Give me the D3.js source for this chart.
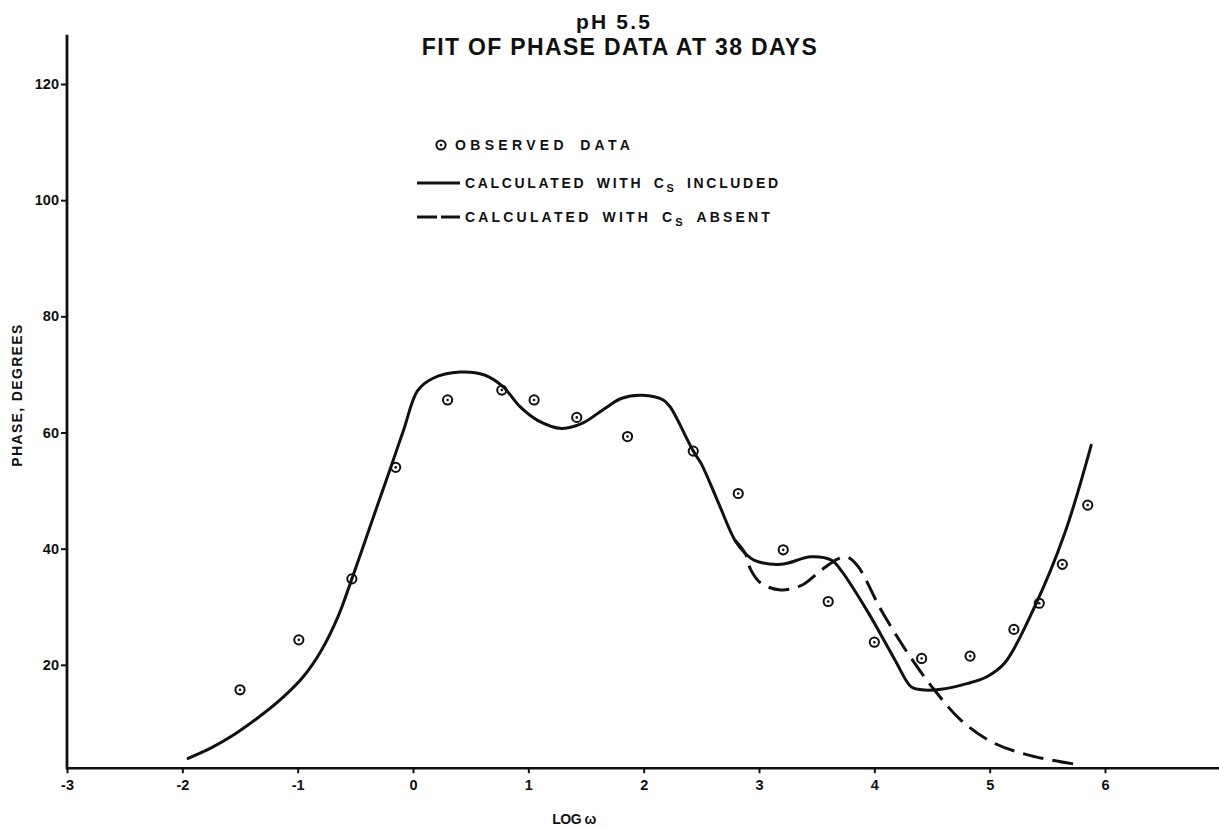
<!DOCTYPE html>
<html><head><meta charset="utf-8">
<script src="https://cdn.jsdelivr.net/npm/d3@7"></script>
<style>
html,body{margin:0;padding:0;background:#fff;}
svg{display:block;background:#fff;}
text{font-family:"Liberation Sans",Arial,Helvetica,sans-serif;font-weight:bold;fill:#111;}
</style></head><body>
<svg id="chart" width="1219" height="829"></svg>
<script>
// ---------- data ----------
const titleLines = ["pH 5.5", "FIT OF PHASE DATA AT 38 DAYS"];
const xTicks = [-3, -2, -1, 0, 1, 2, 3, 4, 5, 6];
const yTicks = [20, 40, 60, 80, 100, 120];
const xLabel = "LOG \u03c9";
const yLabel = "PHASE, DEGREES";
const legendLabels = ["OBSERVED DATA", "CALCULATED WITH C_S INCLUDED", "CALCULATED WITH C_S ABSENT"];

// observed data (log omega, phase degrees)
const obsX = [-1.50, -0.99, -0.53, -0.15, 0.30, 0.77, 1.05, 1.42, 1.86, 2.43, 2.82, 3.21, 3.60, 4.00, 4.41, 4.83, 5.21, 5.43, 5.63, 5.85];
const obsY = [15.7, 24.3, 34.8, 54.0, 65.6, 67.3, 65.6, 62.6, 59.3, 56.8, 49.5, 39.8, 30.9, 23.9, 21.1, 21.5, 26.1, 30.6, 37.3, 47.5];

// calculated with Cs included (solid)
const inclX = [-1.95, -1.75, -1.55, -1.35, -1.15, -0.95, -0.80, -0.65, -0.53, -0.44, -0.32, -0.20, -0.08, 0.04, 0.17, 0.41, 0.62, 0.78, 0.93, 1.08, 1.29, 1.47, 1.66, 1.81, 1.99, 2.17, 2.23, 2.43, 2.50, 2.65, 2.79, 2.88, 2.96, 3.19, 3.45, 3.63, 3.71, 3.95, 4.18, 4.32, 4.41, 4.58, 4.81, 4.98, 5.13, 5.39, 5.65, 5.88];
const inclY = [3.9, 5.7, 8.0, 10.8, 14.0, 18.0, 22.3, 28.3, 34.8, 39.9, 46.8, 53.6, 60.5, 67.2, 69.3, 70.4, 69.9, 67.9, 64.4, 62.1, 60.7, 61.6, 64.1, 65.9, 66.4, 65.6, 64.4, 56.8, 54.6, 47.8, 41.5, 39.2, 38.0, 37.3, 38.6, 38.0, 36.3, 28.9, 20.8, 16.2, 15.7, 15.8, 16.8, 18.0, 20.3, 30.0, 42.6, 57.8];

// calculated with Cs absent (dashed; identical to the solid curve below ~2.8)
const absX = [2.79, 2.88, 2.93, 3.02, 3.19, 3.37, 3.54, 3.69, 3.77, 3.86, 4.06, 4.29, 4.52, 4.75, 5.04, 5.39, 5.74];
const absY = [41.5, 39.2, 36.3, 34.0, 32.9, 33.7, 36.3, 38.3, 38.5, 36.9, 29.4, 22.0, 15.7, 10.5, 6.5, 4.2, 2.9];

const yBase = 2.2;   // value where the horizontal axis sits
const yTop = 128.5;  // top end of the vertical axis

// ---------- layout ----------
const svg = d3.select("#chart");
const x = d3.scaleLinear().domain([-3, 6]).range([67, 1105]);
const y = d3.scaleLinear().domain([0, 120]).range([781, 84]);
const ink = "#111";

function fit(sel, target) {
  const n = sel.node().textContent.length;
  const w = sel.node().getComputedTextLength();
  sel.attr("letter-spacing", ((target - w) / Math.max(1, n - 1)).toFixed(2));
}

// title
const t1 = svg.append("text").attr("x", 614).attr("y", 29).attr("text-anchor", "middle")
  .style("font-size", "21px").text(titleLines[0]);
fit(t1, 74);
const t2 = svg.append("text").attr("x", 620).attr("y", 55).attr("text-anchor", "middle")
  .style("font-size", "23px").text(titleLines[1]);
fit(t2, 395);

// axes lines
const x0 = x(-3), yb = y(yBase);
svg.append("line").attr("x1", x0).attr("x2", 1219).attr("y1", yb).attr("y2", yb)
  .attr("stroke", ink).attr("stroke-width", 2.6);
svg.append("line").attr("x1", x0).attr("x2", x0).attr("y1", yb + 1.3).attr("y2", y(yTop))
  .attr("stroke", ink).attr("stroke-width", 2.8);

// x axis ticks
const gx = svg.append("g").attr("transform", `translate(0,${yb})`)
  .call(d3.axisBottom(x).tickValues(xTicks).tickSize(5).tickPadding(6)
    .tickFormat(d => d < 0 ? "-" + Math.abs(d) : String(d)));
gx.select(".domain").remove();
gx.selectAll(".tick line").attr("stroke", ink).attr("stroke-width", 2);
gx.selectAll(".tick text").style("font-size", "14.5px").style("font-family", '"Liberation Sans",Arial,sans-serif')
  .style("font-weight", "bold").attr("fill", ink);

// y axis ticks
const gy = svg.append("g").attr("transform", `translate(${x0},0)`)
  .call(d3.axisLeft(y).tickValues(yTicks).tickSize(6).tickPadding(2));
gy.select(".domain").remove();
gy.selectAll(".tick line").attr("stroke", ink).attr("stroke-width", 2);
gy.selectAll(".tick text").style("font-size", "14.5px").style("font-family", '"Liberation Sans",Arial,sans-serif')
  .style("font-weight", "bold").attr("fill", ink);

// axis titles
const xl = svg.append("text").attr("x", 574).attr("y", 824).attr("text-anchor", "middle")
  .style("font-size", "14px").text(xLabel);
fit(xl, 44);
const yl = svg.append("text").attr("transform", `translate(22,395) rotate(-90)`).attr("text-anchor", "middle")
  .style("font-size", "14px").text(yLabel);
fit(yl, 142);

// curves
const line = d3.line().x((d) => x(d[0])).y((d) => y(d[1])).curve(d3.curveCatmullRom.alpha(0.5));
const incl = inclX.map((v, i) => [v, inclY[i]]);
const abs = absX.map((v, i) => [v, absY[i]]);
svg.append("path").attr("d", line(incl)).attr("fill", "none").attr("stroke", ink)
  .attr("stroke-width", 3).attr("stroke-linecap", "round").attr("stroke-linejoin", "round");
svg.append("path").attr("d", line(abs)).attr("fill", "none").attr("stroke", ink)
  .attr("stroke-width", 3).attr("stroke-dasharray", "21,9");

// observed points
const obs = obsX.map((v, i) => [v, obsY[i]]);
const pts = svg.append("g").selectAll("g").data(obs).join("g")
  .attr("transform", d => `translate(${x(d[0])},${y(d[1])})`);
pts.append("circle").attr("r", 4.6).attr("fill", "none").attr("stroke", ink).attr("stroke-width", 2);
pts.append("circle").attr("r", 1.3).attr("fill", ink);

// legend
const legRows = [145, 183, 217];
const legTextX = [455, 465, 465];
const legWidths = [175, 313, 305];
const lg = svg.append("g");
lg.append("circle").attr("cx", 441).attr("cy", legRows[0]).attr("r", 4.6).attr("fill", "none").attr("stroke", ink).attr("stroke-width", 2);
lg.append("circle").attr("cx", 441).attr("cy", legRows[0]).attr("r", 1.3).attr("fill", ink);
lg.append("line").attr("x1", 417).attr("x2", 460).attr("y1", legRows[1]).attr("y2", legRows[1])
  .attr("stroke", ink).attr("stroke-width", 3);
lg.append("line").attr("x1", 417).attr("x2", 460).attr("y1", legRows[2]).attr("y2", legRows[2])
  .attr("stroke", ink).attr("stroke-width", 3).attr("stroke-dasharray", "20,4");
legendLabels.forEach((lab, i) => {
  const t = lg.append("text").attr("x", legTextX[i]).attr("y", legRows[i] + 5).style("font-size", "14px")
    .attr("word-spacing", 4);
  const parts = lab.split("_S");
  if (parts.length === 1) {
    t.text(lab);
  } else {
    t.append("tspan").text(parts[0]);
    t.append("tspan").attr("dy", 4).style("font-size", "11px").text("S");
    t.append("tspan").attr("dy", -4).text(parts[1]);
  }
  fit(t, legWidths[i]);
});
</script>
</body></html>
